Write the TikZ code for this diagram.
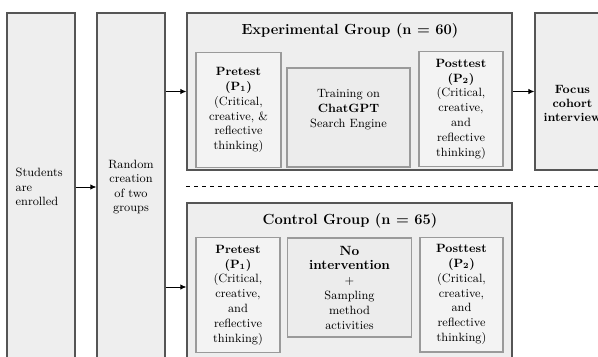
\documentclass[tikz,border=0pt]{standalone}
\usepackage{tikz}
\usetikzlibrary{positioning, arrows.meta}

\definecolor{outerfill}{HTML}{EEEEEE}
\definecolor{innerfill}{HTML}{F3F3F3}
\definecolor{midfill}{HTML}{ECECEC}
\definecolor{outerline}{HTML}{555555}
\definecolor{innerline}{HTML}{9A9A9A}

\begin{document}
\begin{tikzpicture}[
  x=0.75pt, y=-0.75pt,
  % Box Styles
  stagebox/.style={rectangle, draw=outerline, line width=0.9pt, fill=outerfill, align=center, font=\fontsize{9}{10.8}\selectfont, inner sep=0pt},
  groupbox/.style={rectangle, draw=outerline, line width=0.9pt, fill=outerfill, minimum width=243.75pt},
  grouptitle/.style={font=\fontsize{11}{13}\selectfont\bfseries},
  testbox/.style={rectangle, draw=innerline, line width=1pt, fill=innerfill, align=center, font=\fontsize{9}{11.1}\selectfont, minimum height=86pt, inner sep=1pt},
  treatbox/.style={rectangle, draw=innerline, line width=1pt, fill=midfill, align=center, font=\fontsize{9}{11.1}\selectfont, minimum width=93pt, minimum height=74.25pt, inner sep=1pt},
  % Arrow Styles
  flowarrow/.style={-{Latex[length=4.5pt, width=4pt]}, line width=0.6pt, black},
  sepline/.style={dashed, line width=0.6pt, black}
]
\useasboundingbox (0,0) rectangle (598,356);
\clip (0,0) rectangle (598,356);

% Left stages
\node[stagebox, align=left, text width=38pt, inner xsep=6.5pt, minimum height=261pt] (enrol) at (41,187) {Students\\are\\enrolled};
\node[stagebox, minimum width=51pt, minimum height=261pt] (random) at (131,187) {Random\\creation\\of two\\groups};

% Experimental group
\node[groupbox, minimum height=117.75pt] (exp) at (349.5,91.5) {};
\node[grouptitle] (exptitle) at (350,31) {Experimental Group (n = 60)};
\node[testbox, minimum width=63.75pt] (exppre) at (238.5,110) {\textbf{Pretest}\\\textbf{(P\textsubscript{1})}\\(Critical,\\creative, \&\\reflective\\thinking)};
\node[treatbox, minimum width=92.25pt] (train) at (348.5,117.5) {Training on\\\textbf{ChatGPT}\\Search Engine\rule[-13.5pt]{0pt}{0pt}};
\node[testbox, minimum width=63pt] (exppost) at (461,109) {\textbf{Posttest}\\\textbf{(P\textsubscript{2})}\\(Critical,\\creative,\\and\\reflective\\thinking)};
\node[stagebox, minimum width=56.25pt, minimum height=117.75pt, font=\fontsize{9}{10.8}\selectfont\bfseries] (focus) at (572.5,91.5) {\rule{0pt}{24pt}Focus\\cohort\\interview};

% Separator
\draw[sepline] (exp.west |- 0,186) -- (598,186);

% Control group
\node[groupbox, minimum height=126pt] (ctrl) at (349.5,287) {};
\node[grouptitle] (ctrltitle) at (350,221) {Control Group (n = 65)};
\node[testbox, minimum width=63pt] (ctrlpre) at (238,295) {\textbf{Pretest}\\\textbf{(P\textsubscript{1})}\\(Critical,\\creative,\\and\\reflective\\thinking)};
\node[treatbox] (noint) at (349.5,287.5) {{\fontsize{10}{12}\selectfont\textbf{No}}\\{\fontsize{10}{12}\selectfont\textbf{intervention}}\\+\\Sampling\\method\\activities};
\node[testbox, minimum width=62.25pt] (ctrlpost) at (461.5,294.5) {\textbf{Posttest}\\\textbf{(P\textsubscript{2})}\\(Critical,\\creative,\\and\\reflective\\thinking)};

% Arrows
\draw[flowarrow] (enrol) -- (random);
\draw[flowarrow] (random.east |- exp.west) -- (exp.west);
\draw[flowarrow] (random.east |- ctrl.west) -- (ctrl.west);
\draw[flowarrow] (exp.east) -- (focus.west);

\end{tikzpicture}
\end{document}
